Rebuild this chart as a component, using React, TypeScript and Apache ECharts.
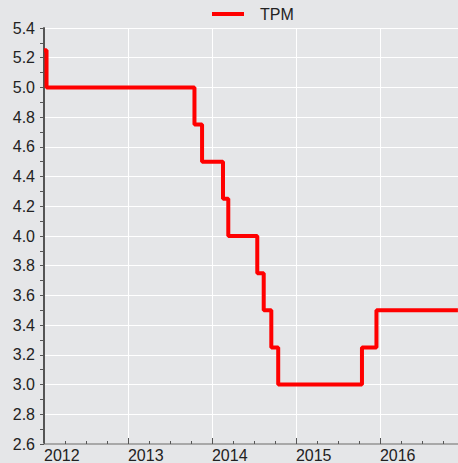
import React, { useEffect, useRef } from "react";
import * as echarts from "echarts";

// TPM change dates and the rate from that date onward
const changeDates = [
  "2012-01-01", "2012-01-12", "2013-10-17", "2013-11-19", "2014-02-18",
  "2014-03-13", "2014-07-17", "2014-08-14", "2014-09-16", "2014-10-16",
  "2015-10-15", "2015-12-17", "2016-12-06",
];
const tpmValues = [5.25, 5.0, 4.75, 4.5, 4.25, 4.0, 3.75, 3.5, 3.25, 3.0, 3.25, 3.5, 3.5];
const seriesName = "TPM";
const xMin = 2012;
const xMax = 2016.93;

function toYear(d: string): number {
  const [y, m, day] = d.split("-").map(Number);
  const start = Date.UTC(y, 0, 1);
  const end = Date.UTC(y + 1, 0, 1);
  const t = Date.UTC(y, m - 1, day);
  return y + (t - start) / (end - start);
}

export default function App() {
  const ref = useRef<HTMLDivElement>(null);
  useEffect(() => {
    document.body.style.margin = "0";
    const chart = echarts.init(ref.current!, null, { renderer: "svg" });
    const data = changeDates.map((d, i) => [Math.min(toYear(d), xMax), tpmValues[i]]);
    const font = "Liberation Sans, Arial, sans-serif";
    chart.setOption({
      animation: false,
      backgroundColor: "#e5e6e8",
      textStyle: { fontFamily: font },
      legend: {
        left: 212,
        top: 6,
        padding: 0,
        icon: "rect",
        itemWidth: 32,
        itemHeight: 4,
        textStyle: { fontSize: 16, color: "#222", fontFamily: font, padding: [0, 0, 0, 11] },
        data: [seriesName],
      },
      grid: { left: 44, right: 0, top: 28, bottom: 18, containLabel: false },
      xAxis: {
        type: "value",
        min: xMin,
        max: xMax,
        interval: 1,
        axisLine: { show: true, onZero: false, lineStyle: { color: "#a8a8a8", width: 2 } },
        axisTick: { show: true, inside: true, length: 6, lineStyle: { color: "#555", width: 1 } },
        minorTick: { show: true, splitNumber: 4, length: 3, lineStyle: { color: "#555", width: 1 } },
        axisLabel: {
          show: true,
          align: "left",
          margin: 3,
          fontSize: 16,
          color: "#222",
          fontFamily: font,
          showMaxLabel: false,
          formatter: (v: number) => (Math.abs(v - Math.round(v)) < 1e-6 ? String(Math.round(v)) : ""),
        },
        splitLine: { show: true, lineStyle: { color: "#ffffff", width: 1 } },
      },
      yAxis: {
        type: "value",
        min: 2.6,
        max: 5.4,
        interval: 0.2,
        axisLine: { show: true, lineStyle: { color: "#555", width: 2 } },
        axisTick: { show: true, length: 4, lineStyle: { color: "#555", width: 1 } },
        minorTick: { show: true, splitNumber: 2, length: 4, lineStyle: { color: "#555", width: 1 } },
        axisLabel: {
          margin: 9,
          fontSize: 16,
          color: "#222",
          fontFamily: font,
          formatter: (v: number) => v.toFixed(1),
        },
        splitLine: { show: true, lineStyle: { color: "#ffffff", width: 1 } },
      },
      series: [
        {
          name: seriesName,
          type: "line",
          step: "end",
          data,
          showSymbol: false,
          symbol: "none",
          lineStyle: { color: "#ff0000", width: 4 },
          itemStyle: { color: "#ff0000" },
        },
      ],
    });
    return () => chart.dispose();
  }, []);
  return <div ref={ref} style={{ width: 458, height: 463 }} />;
}
